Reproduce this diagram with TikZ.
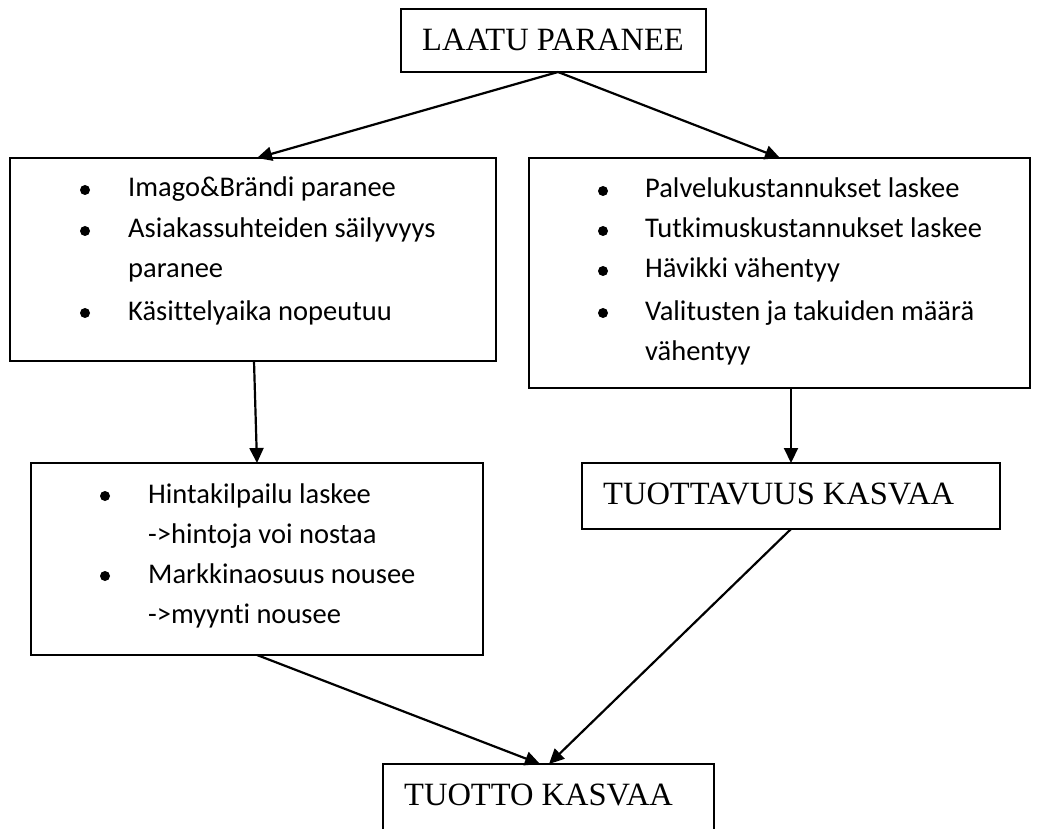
\documentclass[tikz,border=0pt]{standalone}
\usepackage{fontspec}
\setmainfont{Liberation Serif}
\newfontfamily\listfont[Ligatures=NoCommon]{Carlito}
\usetikzlibrary{arrows.meta}

\tikzset{
  box/.style={draw, line width=1.5pt, inner sep=0pt, outer sep=0pt, anchor=north west},
  link/.style={line width=2.2pt, -{Triangle[length=15pt,width=14pt]}},
  title/.style={anchor=base west, inner sep=0pt, font=\fontsize{32.5}{38}\selectfont},
  item/.style={anchor=base west, inner sep=0pt, font=\listfont\fontsize{28.5}{34}\selectfont},
  dot/.style={fill, circle, inner sep=0pt, minimum size=10pt}
}

\begin{document}
\begin{tikzpicture}[x=1pt, y=-1pt]
\useasboundingbox (0,0) rectangle (1045,829);

% boxes
\node[box, minimum width=305pt, minimum height=63pt] (top) at (401,9) {};
\node[box, minimum width=486pt, minimum height=203pt] (left) at (10,158) {};
\node[box, minimum width=501pt, minimum height=230pt] (right) at (529,158) {};
\node[box, minimum width=452pt, minimum height=192pt] (price) at (31,463) {};
\node[box, minimum width=418pt, minimum height=66pt] (prod) at (582,463) {};
\begin{scope}
  \clip (0,0) rectangle (1045,829);
  \node[box, minimum width=331pt, minimum height=100pt] (gain) at (383,764) {};
\end{scope}

% headings
\node[title] (ttop) at (422,51) {LAATU PARANEE};
\node[title] (tprod) at (603,504) {TUOTTAVUUS KASVAA};
\node[title] (tgain) at (404,805) {TUOTTO KASVAA};

% left list
\node[dot] (la) at (85,190) {};
\node[item] at (128,197) {Imago\&Brändi paranee};
\node[dot] (lb) at (85,231) {};
\node[item] at (128,238) {Asiakassuhteiden säilyvyys};
\node[item] at (128,278) {paranee};
\node[dot] (lc) at (85,313) {};
\node[item] at (128,320) {Käsittelyaika nopeutuu};

% right list
\node[dot] (ra) at (603,191) {};
\node[item] at (645,198) {Palvelukustannukset laskee};
\node[dot] (rb) at (603,231) {};
\node[item] at (645,238) {Tutkimuskustannukset laskee};
\node[dot] (rc) at (603,271) {};
\node[item] at (645,278) {Hävikki vähentyy};
\node[dot] (rd) at (603,313) {};
\node[item] at (645,320) {Valitusten ja takuiden määrä};
\node[item] at (645,360) {vähentyy};

% price list
\node[dot] (pa) at (105,496) {};
\node[item] at (148,503) {Hintakilpailu laskee};
\node[item] at (148,543) {->hintoja voi nostaa};
\node[dot] (pb) at (105,576) {};
\node[item] at (148,583) {Markkinaosuus nousee};
\node[item] at (148,623) {->myynti nousee};

% connectors
\draw[link] ([xshift=157pt]top.south west) -- ([xshift=247pt]left.north west);
\draw[link] ([xshift=157pt]top.south west) -- ([xshift=251pt]right.north west);
\draw[link] ([xshift=244pt]left.south west) -- ([xshift=226pt]price.north west);
\draw[link] ([xshift=262pt]right.south west) -- ([xshift=209pt]prod.north west);
\draw[link] ([xshift=226pt]price.south west) -- ([xshift=157pt]gain.north west);
\draw[link] ([xshift=209pt]prod.south west) -- ([xshift=166pt]gain.north west);
\end{tikzpicture}
\end{document}
